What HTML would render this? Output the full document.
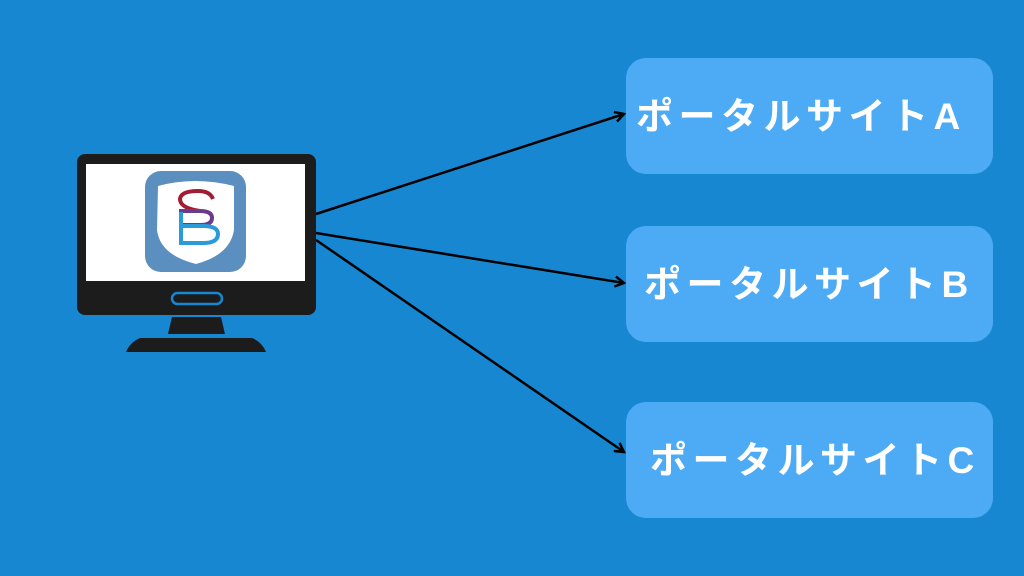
<!DOCTYPE html>
<html><head><meta charset="utf-8"><style>
body{margin:0;width:1024px;height:576px;overflow:hidden;background:#1787d2;font-family:"Liberation Sans","Noto Sans CJK JP",sans-serif}
.box{position:absolute;left:626px;width:367px;height:116px;background:#4dabf5;border-radius:20px;color:#fff;font-weight:bold;font-size:37px;letter-spacing:5.5px;line-height:118px;white-space:nowrap}
</style></head><body>
<div class="box" style="top:58px;padding-left:10px;box-sizing:border-box">ポータルサイトA</div>
<div class="box" style="top:226px;padding-left:18px;box-sizing:border-box">ポータルサイトB</div>
<div class="box" style="top:402px;padding-left:24px;box-sizing:border-box">ポータルサイトC</div>
<svg width="1024" height="576" style="position:absolute;left:0;top:0">
<defs><marker id="a" markerWidth="12" markerHeight="12" refX="10" refY="6" orient="auto" markerUnits="userSpaceOnUse"><path d="M1,1 L10,6 L1,11" fill="none" stroke="#000" stroke-width="2.5"/></marker></defs>
<g stroke="#000" stroke-width="2.5" fill="none" marker-end="url(#a)">
<line x1="316" y1="214" x2="624" y2="114"/>
<line x1="316" y1="233" x2="624" y2="283"/>
<line x1="316" y1="240" x2="624" y2="452"/>
</g>
<rect x="77" y="154" width="239" height="161" rx="8" fill="#1c1c1c"/>
<rect x="86" y="164" width="219" height="117" fill="#fff"/>
<rect x="172" y="293" width="50" height="11" rx="5.5" fill="none" stroke="#1787d2" stroke-width="2.5"/>
<path d="M172,317 L221,317 L225,334 L168,334Z" fill="#1c1c1c"/>
<path d="M140,338 L252,338 Q262,342 266,352 L126,352 Q130,342 140,338Z" fill="#1c1c1c"/>
<rect x="145" y="171" width="101" height="101" rx="16" fill="#5b8fbf"/>
<path d="M158,186 Q195,176 234,186 L234,230 Q230,255 196,264 Q160,255 157,230Z" fill="#fff"/>
<path d="M213,199 Q210,191 198,191 Q181,191 180,199 Q180,208 200,211" fill="none" stroke="#a11d33" stroke-width="4"/>
<path d="M179,211 L200,211 Q212,211 212,218 Q212 225 200,225 L179,225" fill="none" stroke="#6a3a8c" stroke-width="4"/>
<path d="M181,212 L181,243 L203,243 Q218,243 218,234 Q218,226 203,226 L181,226" fill="none" stroke="#2a9bd8" stroke-width="4"/>
</svg>
</body></html>
